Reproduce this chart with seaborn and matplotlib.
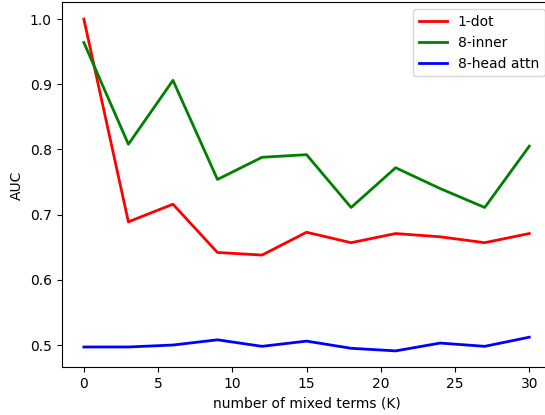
import numpy as np
import pandas as pd
import matplotlib
matplotlib.use("Agg")
import matplotlib.pyplot as plt
import seaborn as sns

# values
k_values = [0, 3, 6, 9, 12, 15, 18, 21, 24, 27, 30]
auc_1dot = [1.000, 0.689, 0.716, 0.642, 0.638, 0.673, 0.657, 0.671, 0.666, 0.657, 0.671]
auc_8inner = [0.964, 0.808, 0.906, 0.754, 0.788, 0.792, 0.711, 0.772, 0.740, 0.711, 0.805]
auc_8head = [0.497, 0.497, 0.500, 0.508, 0.498, 0.506, 0.495, 0.491, 0.503, 0.498, 0.512]

series_names = ["1-dot", "8-inner", "8-head attn"]
series_colors = ["red", "green", "blue"]

df = pd.DataFrame({
    "K": k_values * 3,
    "AUC": auc_1dot + auc_8inner + auc_8head,
    "model": [series_names[0]] * len(k_values)
             + [series_names[1]] * len(k_values)
             + [series_names[2]] * len(k_values),
})

fig, ax = plt.subplots(figsize=(5.45, 4.15), dpi=100)
sns.lineplot(data=df, x="K", y="AUC", hue="model",
             palette=dict(zip(series_names, series_colors)),
             linewidth=2, ax=ax)
ax.set_xlabel("number of mixed terms (K)")
ax.set_ylabel("AUC")
ax.legend(loc="upper right")
# the reference is cropped on the right, so the axes run past the figure edge
plt.subplots_adjust(left=0.113, right=1.012, top=0.994, bottom=0.1145)
plt.savefig("out.png")
